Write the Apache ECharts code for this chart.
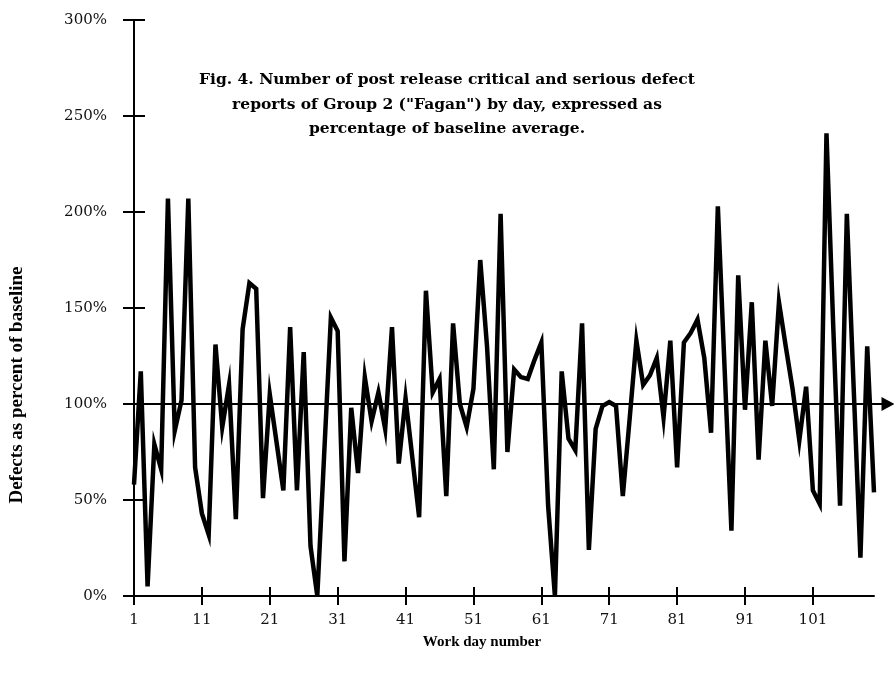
<!DOCTYPE html>
<html>
<head>
<meta charset="utf-8">
<script src="https://cdn.jsdelivr.net/npm/echarts@6/dist/echarts.min.js"></script>
<style>
html,body{margin:0;padding:0;background:#fff;}
#chart{width:894px;height:688px;}
</style>
</head>
<body>
<div id="chart"></div>
<script>
// ---- data ----
const titleLines = [
  'Fig. 4. Number of post release critical and serious defect',
  'reports of Group 2 ("Fagan") by day, expressed as',
  'percentage of baseline average.'
];
const xAxisTitle = 'Work day number';
const yAxisTitle = 'Defects as percent of baseline';

const workDays = [
  1,2,3,4,5,6,7,8,9,10,
  11,12,13,14,15,16,17,18,19,20,
  21,22,23,24,25,26,27,28,29,30,
  31,32,33,34,35,36,37,38,39,40,
  41,42,43,44,45,46,47,48,49,50,
  51,52,53,54,55,56,57,58,59,60,
  61,62,63,64,65,66,67,68,69,70,
  71,72,73,74,75,76,77,78,79,80,
  81,82,83,84,85,86,87,88,89,90,
  91,92,93,94,95,96,97,98,99,100,
  101,102,103,104,105,106,107,108,109,110
];

// defects as percent of baseline, one value per work day
const defectsPct = [
  58,117,5,79,66,207,86,102,207,67,
  43,32,131,88,110,40,139,163,160,51,
  105,80,55,140,55,127,26,0,73,145,
  138,18,98,64,114,91,106,87,140,69,
  103,72,41,159,106,113,52,142,100,88,
  108,175,130,66,199,75,118,114,113,123,
  132,47,0,117,82,76,142,24,87,99,
  101,99,52,92,133,110,115,124,93,133,
  67,132,137,144,124,85,203,118,34,167,
  97,153,71,133,99,153,130,108,81,109,
  55,48,241,140,47,199,109,20,130,54
];

const baselinePct = 100;
const yTicks = [0, 50, 100, 150, 200, 250, 300];

// ---- chart ----
const FONT = '"DejaVu Serif", serif';
const TITLE_FONT = '"Liberation Serif", "Times New Roman", serif';
const chart = echarts.init(document.getElementById('chart'), null, {renderer: 'canvas'});

const axisColor = '#000';
const option = {
  animation: false,
  backgroundColor: '#ffffff',
  title: {
    text: titleLines.join('\n'),
    left: 'center',
    top: 63,
    textStyle: {
      fontFamily: FONT,
      fontWeight: 'bold',
      fontSize: 15.5,
      lineHeight: 24.5,
      color: '#000'
    }
  },
  grid: [
    {left: 134, right: 20, top: 20, bottom: 92},
    {left: 134, right: 6, top: 20, bottom: 92}
  ],
  xAxis: [
    {
      type: 'category', gridIndex: 0, data: workDays, boundaryGap: false,
      position: 'bottom', offset: 0,
      axisLine: {show: true, onZero: false, lineStyle: {color: axisColor, width: 2}},
      axisTick: {show: true, interval: 9, length: 9, lineStyle: {color: axisColor, width: 2}},
      axisLabel: {interval: 9, margin: 17, fontFamily: FONT, fontSize: 15, color: '#111'},
      splitLine: {show: false}
    },
    {
      type: 'category', gridIndex: 0, data: workDays, boundaryGap: false,
      position: 'bottom', offset: 0,
      axisLine: {show: false, onZero: false},
      axisTick: {show: true, inside: true, interval: 9, length: 9, lineStyle: {color: axisColor, width: 2}},
      axisLabel: {show: false},
      splitLine: {show: false}
    },
    {type: 'value', gridIndex: 1, min: 0, max: 1, show: false}
  ],
  yAxis: [
    {
      type: 'value', gridIndex: 0, min: yTicks[0], max: yTicks[yTicks.length - 1], interval: 50,
      position: 'left', offset: 0,
      axisLine: {show: true, onZero: false, lineStyle: {color: axisColor, width: 2}},
      axisTick: {show: true, length: 11, lineStyle: {color: axisColor, width: 2}},
      axisLabel: {formatter: '{value}%', margin: 27, fontFamily: FONT, fontSize: 15, color: '#111'},
      splitLine: {show: false}
    },
    {
      type: 'value', gridIndex: 0, min: yTicks[0], max: yTicks[yTicks.length - 1], interval: 50,
      position: 'left', offset: 0,
      axisLine: {show: false, onZero: false},
      axisTick: {show: true, inside: true, length: 11, lineStyle: {color: axisColor, width: 2}},
      axisLabel: {show: false},
      splitLine: {show: false}
    },
    {type: 'value', gridIndex: 1, min: yTicks[0], max: yTicks[yTicks.length - 1], show: false}
  ],
  graphic: [
    {
      type: 'text', x: 17, y: 385, rotation: Math.PI / 2,
      style: {text: yAxisTitle, font: 'bold 19px ' + TITLE_FONT, fill: '#000', align: 'center', verticalAlign: 'middle'}
    },
    {
      type: 'text', x: 482, y: 642,
      style: {text: xAxisTitle, font: 'bold 15px ' + TITLE_FONT, fill: '#000', align: 'center', verticalAlign: 'middle'}
    }
  ],
  series: [
    {
      type: 'line', name: 'baseline', xAxisIndex: 2, yAxisIndex: 2,
      data: [[0, baselinePct], [1, baselinePct]],
      symbol: 'none', silent: true,
      lineStyle: {color: '#000', width: 2, opacity: 0},
      markLine: {
        silent: true, animation: false,
        symbol: ['none', 'triangle'], symbolSize: [14, 13],
        label: {show: false},
        lineStyle: {color: '#000', width: 2, type: 'solid'},
        emphasis: {disabled: true},
        data: [{yAxis: baselinePct}]
      },
      z: 1
    },
    {
      type: 'line', name: 'Defects', xAxisIndex: 0, yAxisIndex: 0,
      data: defectsPct, symbol: 'none', silent: true,
      lineStyle: {color: '#000', width: 4.5, join: 'miter', cap: 'butt'},
      z: 3
    }
  ]
};
chart.setOption(option);
</script>
</body>
</html>
